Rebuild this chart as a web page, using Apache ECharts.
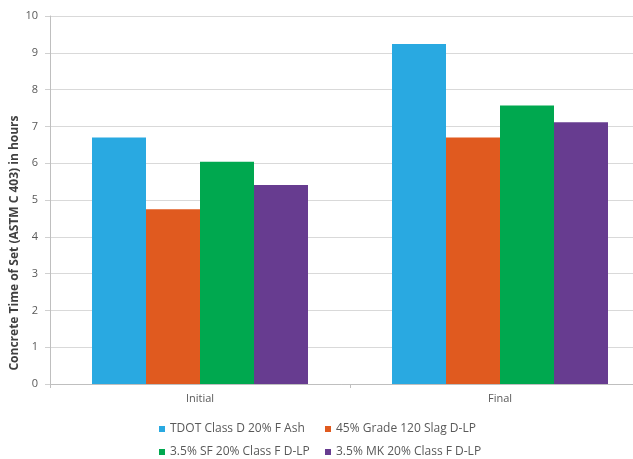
<!DOCTYPE html>
<html><head><meta charset="utf-8">
<script src="https://cdn.jsdelivr.net/npm/echarts@6/dist/echarts.min.js"></script>
<style>html,body{margin:0;padding:0;background:#fff}#c{width:633px;height:459px}</style>
</head><body><div id="c"></div>
<script>
const categories = ['Initial', 'Final'];
const seriesNames = ['TDOT Class D 20% F Ash', '45% Grade 120 Slag D-LP', '3.5% SF 20% Class F D-LP', '3.5% MK 20% Class F D-LP'];
const tdot = [6.70, 9.24];
const slag = [4.75, 6.70];
const sf = [6.04, 7.57];
const mk = [5.41, 7.11];
const yTicks = [0, 1, 2, 3, 4, 5, 6, 7, 8, 9, 10];
const yTitle = 'Concrete Time of Set (ASTM C 403) in hours';
const colors = ['#29A9E1', '#E05A1F', '#00A84F', '#673C90'];
const values = [tdot, slag, sf, mk];

const font = '"Open Sans", "Liberation Sans", sans-serif';
const legendPos = [[154, 418], [320, 418], [154, 441], [320, 441]];
const chart = echarts.init(document.getElementById('c'));
chart.setOption({
  animation: false,
  grid: { left: 50, width: 600, top: 16, bottom: 75, containLabel: false, outerBoundsMode: 'none' },
  legend: seriesNames.map((n, i) => ({
    data: [n], left: legendPos[i][0], top: legendPos[i][1],
    itemWidth: 6, itemHeight: 6, icon: 'rect', itemGap: 4,
    textStyle: { fontFamily: font, fontSize: 12, color: '#595959' }
  })),
  graphic: [{
    type: 'text', x: 15, y: 243, rotation: Math.PI / 2,
    style: { text: yTitle, font: 'bold 12px ' + font, fill: '#404040',
      textAlign: 'center', textVerticalAlign: 'middle' }
  }],
  xAxis: {
    type: 'category', data: categories,
    axisLine: { lineStyle: { color: '#bfbfbf' } },
    axisTick: { show: true, length: 4, lineStyle: { color: '#bfbfbf' } },
    axisLabel: { fontFamily: font, fontSize: 11, color: '#595959', margin: 9 }
  },
  yAxis: {
    type: 'value', min: 0, max: 10, interval: 1,
    axisLine: { show: true, lineStyle: { color: '#bfbfbf' } },
    axisTick: { show: true, length: 5, lineStyle: { color: '#d0d0d0' } },
    splitLine: { lineStyle: { color: '#d9d9d9' } },
    axisLabel: { fontFamily: font, fontSize: 11, color: '#595959', margin: 12,
      formatter: v => yTicks.includes(v) ? String(v) : '' }
  },
  series: seriesNames.map((n, i) => ({
    name: n, type: 'bar', data: values[i],
    barGap: '0%', barCategoryGap: '28%',
    itemStyle: { color: colors[i] }
  }))
});
</script></body></html>
